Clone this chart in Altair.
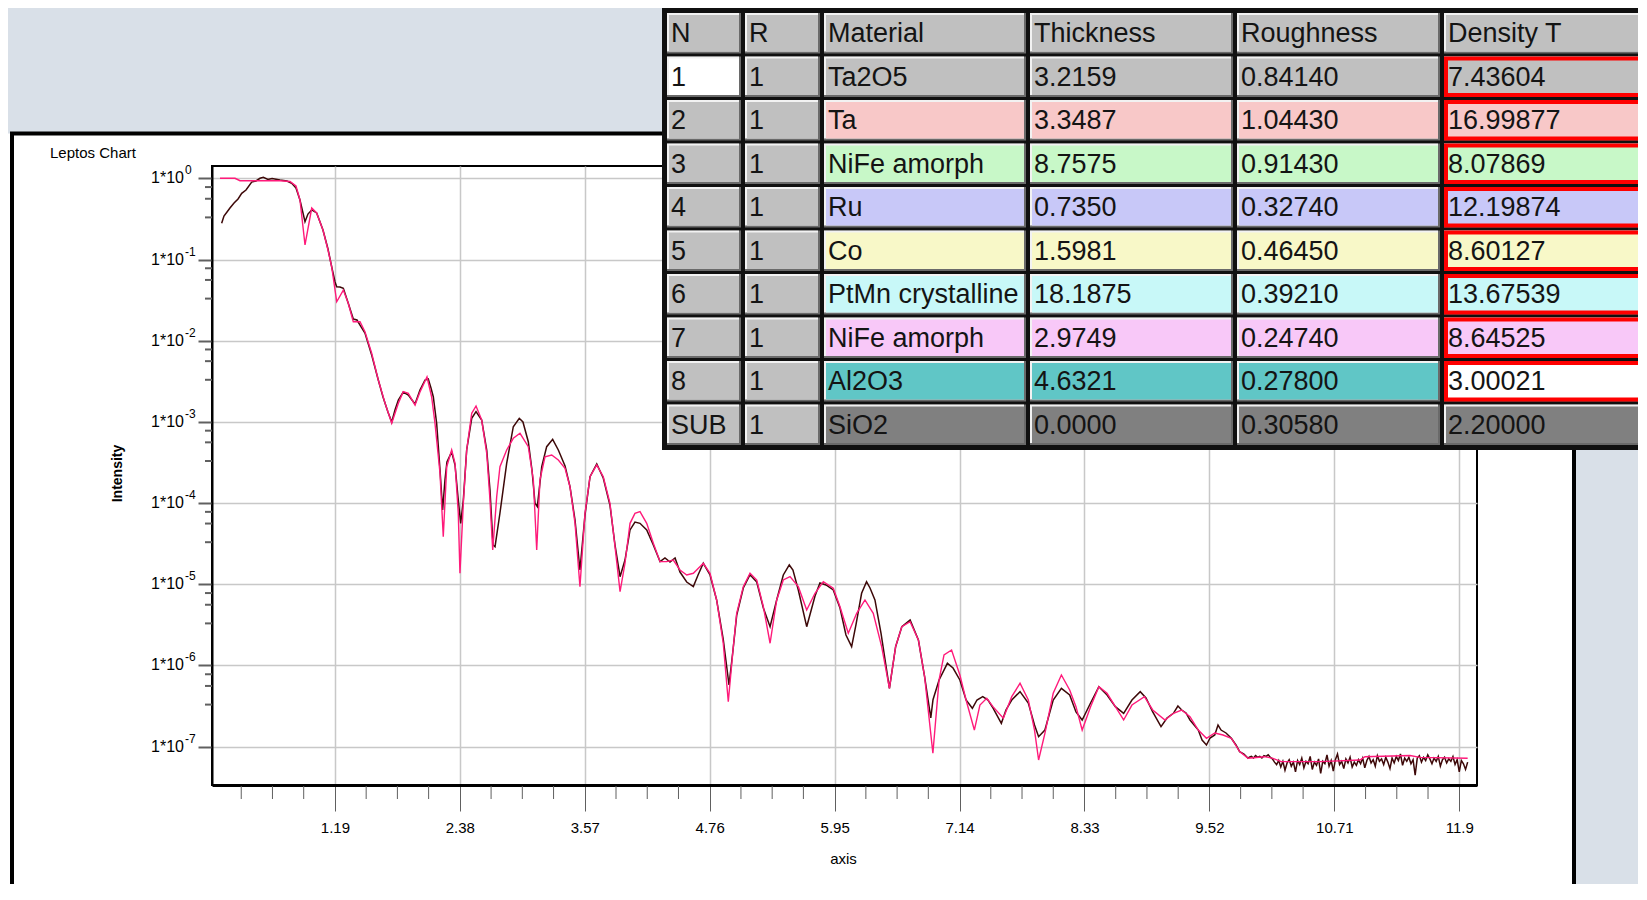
import altair as alt
import pandas as pd

# ---------------- data ----------------
# simulated (fit) curve: x in axis units, log10 of intensity
fit_x = [0.095, 0.238, 0.286, 0.667, 0.762, 0.819, 0.857, 0.905, 0.969, 1.016,
         1.076, 1.124, 1.159, 1.207, 1.270, 1.317, 1.365, 1.429, 1.476, 1.540,
         1.603, 1.667, 1.731, 1.794, 1.841, 1.889, 1.953, 2.000, 2.067, 2.111,
         2.143, 2.191, 2.222, 2.255, 2.302, 2.334, 2.365, 2.381, 2.413, 2.445,
         2.493, 2.534, 2.588, 2.636, 2.667, 2.693, 2.731, 2.762, 2.826, 2.889,
         2.953, 3.032, 3.080, 3.112, 3.143, 3.191, 3.255, 3.318, 3.382, 3.429,
         3.477, 3.524, 3.572, 3.620, 3.684, 3.746, 3.810, 3.858, 3.906, 3.953,
         4.001, 4.048, 4.096, 4.160, 4.223, 4.287, 4.350, 4.413, 4.477, 4.541,
         4.604, 4.699, 4.763, 4.826, 4.889, 4.937, 4.982, 5.017, 5.080, 5.144,
         5.208, 5.271, 5.335, 5.398, 5.461, 5.525, 5.604, 5.684, 5.763, 5.842,
         5.937, 6.001, 6.080, 6.160, 6.239, 6.318, 6.398, 6.472, 6.531, 6.590,
         6.669, 6.748, 6.807, 6.886, 6.945, 6.992, 7.064, 7.143, 7.202, 7.281,
         7.334, 7.399, 7.458, 7.557, 7.637, 7.716, 7.795, 7.854, 7.893, 7.953,
         8.032, 8.110, 8.189, 8.249, 8.308, 8.388, 8.467, 8.545, 8.624, 8.703,
         8.782, 8.901, 8.980, 9.097, 9.177, 9.256, 9.335, 9.414, 9.492, 9.571,
         9.650, 9.729, 9.808, 9.888, 10.046, 10.125, 10.204, 10.573, 10.954, 11.002,
         11.431, 11.526, 11.980]
fit_log10 = [0.000, 0.000, -0.030, -0.030, -0.040, -0.095, -0.267, -0.821, -0.366, -0.427,
             -0.637, -0.883, -1.089, -1.520, -1.376, -1.539, -1.766, -1.766, -1.889, -2.155,
             -2.484, -2.767, -3.017, -2.771, -2.628, -2.648, -2.792, -2.632, -2.447, -2.690,
             -3.017, -3.633, -4.414, -3.552, -3.346, -3.510, -4.126, -4.864, -4.002, -3.346,
             -2.894, -2.804, -2.977, -3.387, -3.962, -4.577, -3.921, -3.552, -3.346, -3.202,
             -3.140, -3.305, -3.715, -4.577, -3.715, -3.429, -3.408, -3.469, -3.571, -3.798,
             -4.249, -5.029, -4.126, -3.675, -3.531, -3.675, -4.002, -4.537, -5.091, -4.741,
             -4.249, -4.126, -4.106, -4.249, -4.495, -4.721, -4.721, -4.701, -4.824, -4.885,
             -4.864, -4.741, -4.864, -5.193, -5.726, -6.446, -5.809, -5.357, -5.029, -4.864,
             -4.947, -5.276, -5.726, -5.193, -4.947, -4.906, -5.029, -5.316, -5.111, -4.968,
             -5.049, -5.276, -5.603, -5.357, -5.193, -5.357, -5.768, -6.281, -5.768, -5.522,
             -5.460, -5.686, -6.138, -7.081, -6.178, -5.870, -5.809, -6.117, -6.425, -6.795,
             -6.487, -6.404, -6.507, -6.650, -6.384, -6.219, -6.425, -6.795, -7.164, -6.835,
             -6.342, -6.117, -6.302, -6.507, -6.795, -6.507, -6.261, -6.342, -6.507, -6.671,
             -6.487, -6.384, -6.548, -6.671, -6.589, -6.548, -6.630, -6.795, -6.896, -6.831,
             -6.856, -6.896, -7.061, -7.143, -7.123, -7.143, -7.184, -7.184, -7.164, -7.123,
             -7.108, -7.132, -7.143]

# measured curve: x in axis units, log10 of intensity (fringe region)
meas_x = [0.111, 0.133, 0.162, 0.190, 0.229, 0.267, 0.302, 0.343, 0.397, 0.438,
          0.476, 0.508, 0.552, 0.591, 0.667, 0.733, 0.778, 0.819, 0.857, 0.905,
          0.933, 0.969, 1.016, 1.048, 1.076, 1.124, 1.159, 1.191, 1.207, 1.238,
          1.270, 1.317, 1.365, 1.400, 1.429, 1.476, 1.540, 1.603, 1.648, 1.695,
          1.731, 1.762, 1.794, 1.841, 1.889, 1.924, 1.953, 2.000, 2.048, 2.079,
          2.105, 2.127, 2.159, 2.191, 2.216, 2.238, 2.257, 2.302, 2.334, 2.365,
          2.388, 2.413, 2.445, 2.493, 2.534, 2.588, 2.636, 2.667, 2.696, 2.715,
          2.762, 2.826, 2.889, 2.946, 2.981, 3.032, 3.067, 3.096, 3.118, 3.160,
          3.207, 3.264, 3.318, 3.382, 3.429, 3.477, 3.524, 3.572, 3.620, 3.684,
          3.746, 3.810, 3.858, 3.906, 3.953, 4.001, 4.048, 4.096, 4.160, 4.223,
          4.287, 4.334, 4.382, 4.430, 4.477, 4.541, 4.604, 4.649, 4.699, 4.763,
          4.826, 4.889, 4.944, 4.982, 5.017, 5.080, 5.144, 5.208, 5.271, 5.335,
          5.398, 5.461, 5.518, 5.553, 5.604, 5.684, 5.763, 5.810, 5.868, 5.937,
          6.001, 6.058, 6.112, 6.153, 6.207, 6.254, 6.287, 6.334, 6.392, 6.472,
          6.531, 6.590, 6.669, 6.748, 6.807, 6.866, 6.887, 6.945, 7.024, 7.078,
          7.143, 7.202, 7.262, 7.306, 7.361, 7.411, 7.458, 7.538, 7.582, 7.637,
          7.716, 7.795, 7.854, 7.893, 7.953, 8.032, 8.110, 8.189, 8.249, 8.308,
          8.388, 8.467, 8.545, 8.624, 8.703, 8.782, 8.861, 8.916, 8.980, 9.059,
          9.116, 9.177, 9.220, 9.256, 9.297, 9.335, 9.414, 9.450, 9.492, 9.526,
          9.571, 9.602, 9.631, 9.678, 9.729, 9.773, 9.808, 9.849, 9.888]
meas_log10 = [-0.554, -0.464, -0.415, -0.366, -0.304, -0.255, -0.185, -0.144, -0.046, -0.033,
              0.000, 0.012, -0.015, -0.002, -0.021, -0.033, -0.062, -0.119, -0.267, -0.534,
              -0.440, -0.390, -0.427, -0.538, -0.637, -0.871, -1.089, -1.277, -1.335, -1.339,
              -1.355, -1.539, -1.733, -1.745, -1.807, -1.905, -2.176, -2.484, -2.693, -2.878,
              -3.001, -2.853, -2.730, -2.632, -2.669, -2.730, -2.779, -2.607, -2.484, -2.472,
              -2.583, -2.690, -3.017, -3.592, -4.085, -3.715, -3.494, -3.371, -3.531, -3.962,
              -4.249, -3.962, -3.346, -2.956, -2.874, -2.977, -3.346, -3.839, -4.516, -4.537,
              -4.122, -3.510, -3.059, -2.956, -3.001, -3.244, -3.592, -4.002, -4.044, -3.552,
              -3.305, -3.214, -3.346, -3.543, -3.798, -4.208, -4.824, -4.147, -3.675, -3.518,
              -3.691, -4.027, -4.516, -4.906, -4.701, -4.331, -4.233, -4.249, -4.331, -4.516,
              -4.721, -4.676, -4.725, -4.676, -4.849, -4.972, -5.029, -4.885, -4.741, -4.885,
              -5.193, -5.677, -6.240, -5.809, -5.382, -5.045, -4.881, -4.972, -5.292, -5.522,
              -5.193, -4.885, -4.762, -4.824, -5.070, -5.522, -5.144, -4.984, -5.008, -5.070,
              -5.292, -5.624, -5.768, -5.500, -5.111, -4.968, -5.045, -5.193, -5.603, -6.281,
              -5.768, -5.522, -5.439, -5.686, -6.138, -6.646, -6.422, -6.178, -5.973, -6.031,
              -6.178, -6.425, -6.527, -6.425, -6.384, -6.425, -6.523, -6.712, -6.548, -6.425,
              -6.322, -6.462, -6.733, -6.877, -6.795, -6.425, -6.281, -6.363, -6.572, -6.671,
              -6.462, -6.261, -6.363, -6.507, -6.589, -6.425, -6.322, -6.400, -6.572, -6.753,
              -6.646, -6.589, -6.499, -6.548, -6.585, -6.671, -6.795, -6.918, -6.979, -6.893,
              -6.856, -6.733, -6.795, -6.831, -6.896, -6.979, -7.061, -7.090, -7.143]

# measured curve: noisy background floor
meas_floor_x = [9.90, 9.92, 9.94, 9.96, 9.98, 10.00, 10.02, 10.04, 10.06, 10.08,
                10.10, 10.12, 10.14, 10.16, 10.18, 10.20, 10.22, 10.24, 10.26, 10.28,
                10.30, 10.32, 10.34, 10.36, 10.38, 10.40, 10.42, 10.44, 10.46, 10.48,
                10.50, 10.52, 10.54, 10.56, 10.58, 10.60, 10.62, 10.64, 10.66, 10.68,
                10.70, 10.72, 10.74, 10.76, 10.78, 10.80, 10.82, 10.84, 10.86, 10.88,
                10.90, 10.92, 10.94, 10.96, 10.98, 11.00, 11.02, 11.04, 11.06, 11.08,
                11.10, 11.12, 11.14, 11.16, 11.18, 11.20, 11.22, 11.24, 11.26, 11.28,
                11.30, 11.32, 11.34, 11.36, 11.38, 11.40, 11.42, 11.44, 11.46, 11.48,
                11.50, 11.52, 11.54, 11.56, 11.58, 11.60, 11.62, 11.64, 11.66, 11.68,
                11.70, 11.72, 11.74, 11.76, 11.78, 11.80, 11.82, 11.84, 11.86, 11.88,
                11.90, 11.92, 11.94, 11.96, 11.98]
meas_floor_log10 = [-7.13, -7.12, -7.14, -7.11, -7.13, -7.12, -7.14, -7.11, -7.12, -7.10,
                    -7.13, -7.15, -7.19, -7.22, -7.17, -7.25, -7.18, -7.29, -7.20, -7.16,
                    -7.24, -7.19, -7.31, -7.17, -7.22, -7.14, -7.26, -7.18, -7.21, -7.12,
                    -7.28, -7.19, -7.23, -7.15, -7.33, -7.18, -7.21, -7.10, -7.24, -7.17,
                    -7.30, -7.16, -7.09, -7.22, -7.18, -7.27, -7.15, -7.20, -7.13, -7.25,
                    -7.19, -7.23, -7.16, -7.21, -7.14, -7.26, -7.17, -7.12, -7.20, -7.16,
                    -7.24, -7.11, -7.18, -7.15, -7.22, -7.13, -7.19, -7.27, -7.14, -7.20,
                    -7.12, -7.17, -7.09, -7.23, -7.14, -7.18, -7.13, -7.21, -7.16, -7.35,
                    -7.14, -7.11, -7.19, -7.13, -7.17, -7.10, -7.15, -7.21, -7.14, -7.18,
                    -7.12, -7.24, -7.16, -7.13, -7.20, -7.15, -7.18, -7.12, -7.22, -7.16,
                    -7.31, -7.17, -7.21, -7.28, -7.19]

x_major_ticks = [1.19, 2.38, 3.57, 4.76, 5.95, 7.14, 8.33, 9.52, 10.71, 11.9]
y_major_ticks = [1, 1e-1, 1e-2, 1e-3, 1e-4, 1e-5, 1e-6, 1e-7]
y_tick_exponents = ["0", "-1", "-2", "-3", "-4", "-5", "-6", "-7"]

# layer table
table_headers = ["N", "R", "Material", "Thickness", "Roughness", "Density T"]
layer_n = ["1", "2", "3", "4", "5", "6", "7", "8", "SUB"]
layer_r = ["1", "1", "1", "1", "1", "1", "1", "1", "1"]
layer_material = ["Ta2O5", "Ta", "NiFe amorph", "Ru", "Co", "PtMn crystalline",
                  "NiFe amorph", "Al2O3", "SiO2"]
layer_thickness = ["3.2159", "3.3487", "8.7575", "0.7350", "1.5981", "18.1875",
                   "2.9749", "4.6321", "0.0000"]
layer_roughness = ["0.84140", "1.04430", "0.91430", "0.32740", "0.46450", "0.39210",
                   "0.24740", "0.27800", "0.30580"]
layer_density = ["7.43604", "16.99877", "8.07869", "12.19874", "8.60127", "13.67539",
                 "8.64525", "3.00021", "2.20000"]

# ---------------- styles / layout ----------------
FONT = "Liberation Sans, Arial, sans-serif"
row_fill = ["#c0c0c0", "#f8c8c8", "#c8f8c8", "#c8c8f8", "#f8f8c8", "#c8f8f8",
            "#f8c8f8", "#60c6c6", "#808080"]
col_left = [0, 78, 157, 363, 570, 777]
col_right = [74, 153, 359, 566, 773, 1000]

W, H = 1265, 619           # plot area
PAD_L, PAD_T = 204, 158
SVG_W, SVG_H = 1630, 876

x_scale = alt.Scale(domain=[0.019, 12.069], nice=False, zero=False)
y_scale = alt.Scale(type="log", domain=[3.375e-8, 1.4176], nice=False)

fit_df = pd.DataFrame({"x": fit_x, "I": [10 ** v for v in fit_log10]})
meas_df = pd.DataFrame({"x": meas_x + meas_floor_x,
                        "I": [10 ** v for v in meas_log10 + meas_floor_log10]})
ylab_df = pd.DataFrame({"I": y_major_ticks, "base": ["1*10"] * len(y_major_ticks),
                        "exp": y_tick_exponents})

measured = alt.Chart(meas_df).mark_line(color="#3d0808", strokeWidth=1.5).encode(
    x=alt.X("x:Q", scale=x_scale, axis=alt.Axis(
        values=x_major_ticks, labelExpr="format(datum.value, '.3~f')",
        tickSize=26, tickColor="#606060", tickWidth=1,
        domainColor="black", domainWidth=3,
        grid=True, gridColor="#c8c8c8", gridWidth=1.5,
        labelFont=FONT, labelFontSize=15, labelColor="black", labelPadding=9,
        labelFlush=False, labelOverlap=False,
        title="axis", titleFont=FONT, titleFontSize=15, titleFontWeight="normal",
        titleColor="black", titleX=631, titleY=73, titleBaseline="middle")),
    y=alt.Y("I:Q", scale=y_scale, axis=alt.Axis(
        values=y_major_ticks, labels=False,
        tickSize=14, tickColor="#606060", tickWidth=2,
        domainColor="black", domainWidth=2,
        grid=True, gridColor="#c8c8c8", gridWidth=1.5,
        title="Intensity", titleFont=FONT, titleFontSize=14,
        titleFontWeight="bold", titleColor="black", titleAngle=270,
        titleX=-95, titleY=307, titleAlign="center", titleBaseline="middle")),
)

fit = alt.Chart(fit_df).mark_line(color="#ff1a7a", strokeWidth=1.4).encode(
    x=alt.X("x:Q", scale=x_scale, axis=None),
    y=alt.Y("I:Q", scale=y_scale, axis=None),
)

# y tick labels "1*10" with raised exponent
ylab_base = alt.Chart(ylab_df).mark_text(
    align="right", baseline="middle", font=FONT, fontSize=16, color="black").encode(
    y=alt.Y("I:Q", scale=y_scale, axis=None), x=alt.value(-28), text="base:N")
ylab_exp = alt.Chart(ylab_df).mark_text(
    align="left", baseline="middle", font=FONT, fontSize=12, color="black", dy=-8).encode(
    y=alt.Y("I:Q", scale=y_scale, axis=None), x=alt.value(-27), text="exp:N")

# minor ticks
x_minor = [round(i * 0.2975, 4) for i in range(1, 41) if i % 4 != 0]
y_minor = [m * 10 ** (-d) for d in range(0, 7) for m in (0.78, 0.56, 0.33)]
xminor_chart = alt.Chart(pd.DataFrame({"x": x_minor})).mark_rule(
    color="#606060", strokeWidth=1).encode(
    x=alt.X("x:Q", scale=x_scale, axis=None),
    y=alt.value(H + 1), y2=alt.value(H + 14))
yminor_chart = alt.Chart(pd.DataFrame({"I": y_minor})).mark_rule(
    color="#606060", strokeWidth=2).encode(
    y=alt.Y("I:Q", scale=y_scale, axis=None),
    x=alt.value(-7), x2=alt.value(0))

# window decoration
one = pd.DataFrame({"k": [0]})
gray = "#d9e0e8"
band_top = alt.Chart(one).mark_rect(color=gray).encode(
    x=alt.value(-PAD_L), x2=alt.value(SVG_W - PAD_L),
    y=alt.value(-PAD_T), y2=alt.value(-32.5))
band_right = alt.Chart(one).mark_rect(color=gray).encode(
    x=alt.value(1362), x2=alt.value(SVG_W - PAD_L),
    y=alt.value(-33), y2=alt.value(SVG_H - PAD_T))
frame = alt.Chart(one).mark_rect(fillOpacity=0, stroke="black", strokeWidth=4).encode(
    x=alt.value(-200), x2=alt.value(1362), y=alt.value(-32.5), y2=alt.value(800))
title_txt = alt.Chart(pd.DataFrame({"t": ["Leptos Chart"]})).mark_text(
    align="left", baseline="middle", font=FONT, fontSize=15, color="black").encode(
    text="t:N", x=alt.value(-162), y=alt.value(-13))

# table
rows = []
for r in range(10):
    if r == 0:
        vals = table_headers
    else:
        i = r - 1
        vals = [layer_n[i], layer_r[i], layer_material[i], layer_thickness[i],
                layer_roughness[i], layer_density[i]]
    for c in range(6):
        if r == 0:
            fill = "#c0c0c0"
        elif c < 2:
            fill = "#ffffff" if (r == 1 and c == 0) else "#c0c0c0"
        elif c == 5 and r == 8:
            fill = "#ffffff"
        else:
            fill = row_fill[r - 1]
        rows.append({"c0": col_left[c], "c1": col_right[c],
                     "c0i": col_left[c] + 2, "c1i": col_right[c] - 2,
                     "tx": col_left[c] + 4,
                     "r0": r + 0.035, "r1": r + 0.965,
                     "r0i": r + 0.035 + 0.045, "r1i": r + 0.965 - 0.045,
                     "rm": r + 0.52,
                     "fill": fill, "text": vals[c],
                     "red": 1 if (c == 5 and 1 <= r <= 8) else 0})
cells = pd.DataFrame(rows)

tx_scale = alt.Scale(domain=[0, 1000], range=[455, 1455], nice=False, zero=False)
ty_scale = alt.Scale(domain=[0, 10], range=[-154.5, 280.5], nice=False, zero=False)

def cell_rect(x0, x1, y0, y1, **mark):
    return alt.Chart(cells).mark_rect(**mark).encode(
        x=alt.X(f"{x0}:Q", scale=tx_scale, axis=None), x2=f"{x1}:Q",
        y=alt.Y(f"{y0}:Q", scale=ty_scale, axis=None), y2=f"{y1}:Q")

table_bg = alt.Chart(pd.DataFrame({"a": [-5], "b": [1000], "c": [-0.15], "d": [10.08]})).mark_rect(
    color="#101010").encode(
    x=alt.X("a:Q", scale=tx_scale, axis=None), x2="b:Q",
    y=alt.Y("c:Q", scale=ty_scale, axis=None), y2="d:Q")
cell_dark = cell_rect("c0", "c1", "r0", "r1", color="#6a6a6a")
cell_light = cell_rect("c0", "c1i", "r0", "r1i", color="#f2f2f2")
cell_fill = alt.Chart(cells).mark_rect().encode(
    x=alt.X("c0i:Q", scale=tx_scale, axis=None), x2="c1i:Q",
    y=alt.Y("r0i:Q", scale=ty_scale, axis=None), y2="r1i:Q",
    fill=alt.Fill("fill:N", scale=None))
table_red = alt.Chart(cells).transform_filter("datum.red == 1").mark_rect(
    fillOpacity=0, stroke="#ff0000", strokeWidth=4).encode(
    x=alt.X("c0i:Q", scale=tx_scale, axis=None), x2="c1:Q",
    y=alt.Y("r0i:Q", scale=ty_scale, axis=None), y2="r1i:Q")
table_text = alt.Chart(cells).mark_text(
    align="left", baseline="middle", font=FONT, fontSize=27, color="#141414").encode(
    x=alt.X("tx:Q", scale=tx_scale, axis=None),
    y=alt.Y("rm:Q", scale=ty_scale, axis=None),
    text="text:N")

chart = alt.layer(
    band_top, band_right, frame, title_txt,
    measured, fit, ylab_base, ylab_exp, xminor_chart, yminor_chart,
    table_bg, cell_dark, cell_light, cell_fill, table_red, table_text,
).resolve_scale(
    x="independent", y="independent"
).properties(
    width=W, height=H,
    autosize=alt.AutoSizeParams(type="none"),
    padding={"left": PAD_L, "top": PAD_T, "right": SVG_W - PAD_L - W, "bottom": SVG_H - PAD_T - H},
    background="white",
).configure_view(
    stroke="black", strokeWidth=2, fill="white"
)

chart.save("out.html", embed_options={"renderer": "svg", "actions": False})
